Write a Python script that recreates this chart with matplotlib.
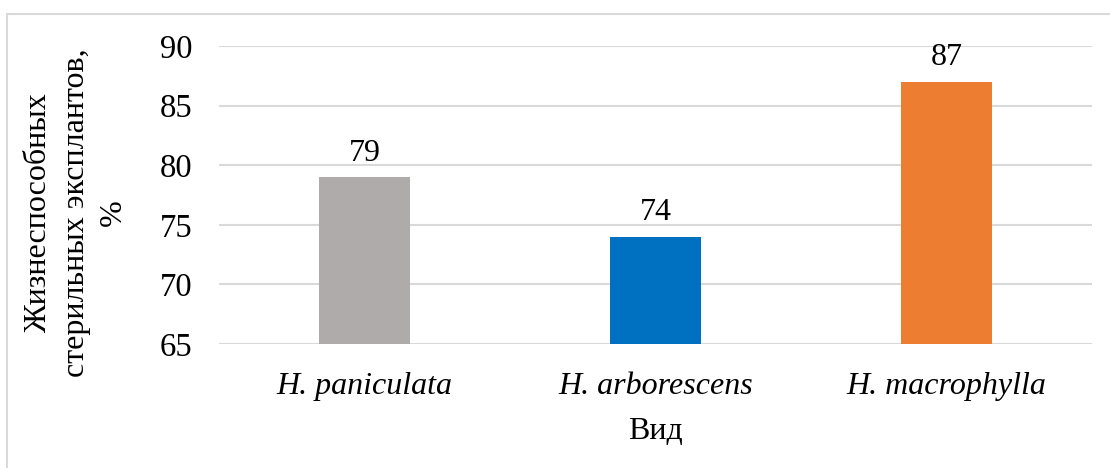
import matplotlib
matplotlib.use("Agg")
from matplotlib import pyplot as plt
from matplotlib.patches import Rectangle

# Daten
categories = ["H. paniculata", "H. arborescens", "H. macrophylla"]
values = [79, 74, 87]
colors = ["#AFABAB", "#0070C0", "#ED7D31"]
yticks = [65, 70, 75, 80, 85, 90]

plt.rcParams['font.family'] = ['Liberation Serif', 'DejaVu Serif']

fig = plt.figure(figsize=(11.1, 4.68), dpi=100)
ax = fig.add_axes([0.1973, 0.265, 0.7865, 0.6367])

x = list(range(len(categories)))
ax.bar(x, [v - 65 for v in values], bottom=65, width=0.316, color=colors, zorder=3)
for xi, v in zip(x, values):
    ax.text(xi, v + 0.8, str(v), ha='center', va='bottom', fontsize=23)

ax.set_xlim(-0.5, 2.5)
ax.set_ylim(65, 90)
ax.set_yticks(yticks)
ax.set_yticklabels([str(t) for t in yticks], fontsize=23.5)
ax.set_xticks(x)
ax.set_xticklabels(categories, fontsize=23, style='italic')
ax.tick_params(axis='both', length=0)
ax.tick_params(axis='y', pad=19)
ax.tick_params(axis='x', pad=20)
ax.grid(axis='y', color='#D9D9D9', linewidth=1.5, zorder=0)
for s in ax.spines.values():
    s.set_visible(False)

ax.set_xlabel("Вид", fontsize=23, labelpad=12)
fig.text(0.035, 0.545, "Жизнеспособных", rotation=90, ha='center', va='center', fontsize=23)
fig.text(0.069, 0.545, "стерильных эксплантов,", rotation=90, ha='center', va='center', fontsize=23)
fig.text(0.102, 0.545, "%", rotation=90, ha='center', va='center', fontsize=23)

# Rahmen
fig.patches.append(Rectangle((7 / 1110, -0.1), 1.2, 0.1 + 1 - 14 / 468,
                             transform=fig.transFigure, fill=False,
                             edgecolor='#D9D9D9', linewidth=1.5))

fig.savefig("out.png", dpi=100)
